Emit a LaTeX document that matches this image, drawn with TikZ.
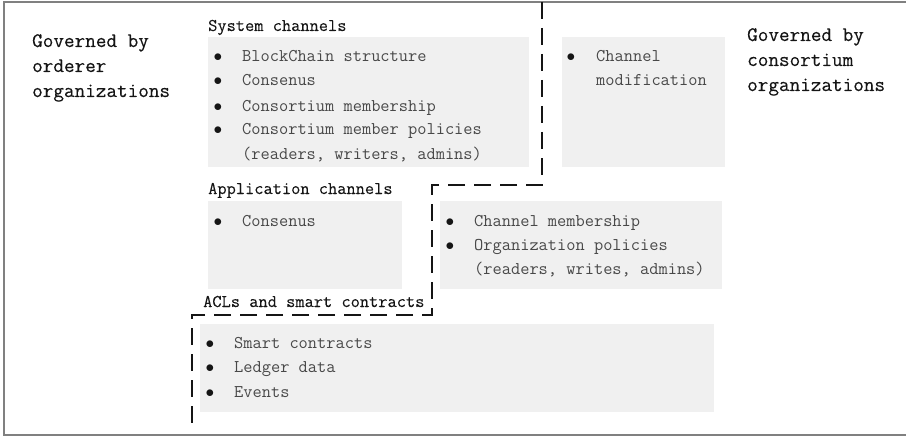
\documentclass[tikz,border=0pt]{standalone}
\usepackage{fontspec}
\newfontfamily\govtt{Latin Modern Mono}[FakeBold=0.3]
\newfontfamily\headtt{Latin Modern Mono}[FakeBold=0.15]
\newfontfamily\bodytt{Latin Modern Mono}
\definecolor{boxgray}{HTML}{F0F0F0}
\definecolor{framegray}{HTML}{808080}
\definecolor{itemgray}{HTML}{484848}
\definecolor{inkblack}{HTML}{151515}
\newcommand{\govfont}{\govtt\fontsize{20.6}{25}\selectfont}
\newcommand{\headfont}{\headtt\fontsize{17.9}{24}\selectfont}
\newcommand{\bodyfont}{\bodytt\fontsize{17.9}{24}\selectfont}
\begin{document}
\begin{tikzpicture}[x=1pt,y=-1pt,
  gbox/.style={fill=boxgray, draw=none, anchor=north west, inner sep=0pt, outer sep=0pt},
  gov/.style={anchor=base west, inner sep=0pt, font=\govfont, text=inkblack},
  heading/.style={anchor=base west, inner sep=0pt, font=\headfont, text=inkblack},
  item/.style={anchor=base west, inner sep=0pt, font=\bodyfont, text=itemgray},
  dot/.style={anchor=base, inner sep=0pt, font=\bodyfont, text=inkblack},
  boundary/.style={draw=inkblack, line width=1.2pt, dash pattern=on 17pt off 9pt},
  frame/.style={draw=framegray, line width=1.6pt}]
\useasboundingbox (0,0) rectangle (906,436);

% outer frame (open on the right)
\coordinate (ftr) at (910,2);
\coordinate (ftl) at (4,2);
\coordinate (fbl) at (4,435);
\coordinate (fbr) at (910,435);
\draw[frame] (ftr) -- (ftl) -- (fbl) -- (fbr);

% shaded panels
\node[gbox, minimum width=321pt, minimum height=130pt] (sys) at (208,37) {};
\node[gbox, minimum width=163pt, minimum height=130pt] (mod) at (562,37) {};
\node[gbox, minimum width=194pt, minimum height=88pt]  (app) at (208,201) {};
\node[gbox, minimum width=282pt, minimum height=88pt]  (mem) at (440,201) {};
\node[gbox, minimum width=514pt, minimum height=88pt]  (acl) at (200,324) {};

% governance labels
\node[gov] (gl1) at (32,47) {Governed by};
\node[gov] (gl2) at (32,72) {orderer};
\node[gov] (gl3) at (32,97) {organizations};
\node[gov] (gr1) at (747,41) {Governed by};
\node[gov] (gr2) at (747,66) {consortium};
\node[gov] (gr3) at (747,91) {organizations};

% system channels
\node[heading] (sysh) at (208,31) {System channels};
\foreach \y/\t [count=\i] in {62/BlockChain structure, 86/Consenus, 111/Consortium membership, 135/Consortium member policies}{
  \node[dot] (sysd\i) at (218,\y) {$\bullet$};
  \node[item] (sysi\i) at (242,\y) {\t};
}
\node[item] (sysi5) at (242,159) {(readers, writers, admins)};

% channel modification
\node[dot] (modd) at (571,62) {$\bullet$};
\node[item] (modi1) at (596,62) {Channel};
\node[item] (modi2) at (596,86) {modification};

% application channels
\node[heading] (apph) at (208,194) {Application channels};
\node[dot] (appd) at (218,226) {$\bullet$};
\node[item] (appi) at (242,226) {Consenus};

% channel membership and organization policies
\node[dot] (memd1) at (450,226) {$\bullet$};
\node[item] (memi1) at (474,226) {Channel membership};
\node[dot] (memd2) at (450,250) {$\bullet$};
\node[item] (memi2) at (474,250) {Organization policies};
\node[item] (memi3) at (474,274) {(readers, writes, admins)};

% ACLs and smart contracts
\node[heading] (aclh) at (203,307) {ACLs and smart contracts};
\foreach \y/\t [count=\i] in {348/Smart contracts, 372/Ledger data, 397/Events}{
  \node[dot] (acld\i) at (210,\y) {$\bullet$};
  \node[item] (acli\i) at (234,\y) {\t};
}

% dashed boundary between the two governance domains
\coordinate (b0) at (542,2);
\coordinate (b1) at (542,185);
\coordinate (b2) at (432,185);
\coordinate (b3) at (432,315);
\coordinate (b4) at (192,315);
\coordinate (b5) at (192,430);
\draw[boundary] (b0) -- (b1) -- (b2) -- (b3) -- (b4) -- (b5);
\end{tikzpicture}
\end{document}
